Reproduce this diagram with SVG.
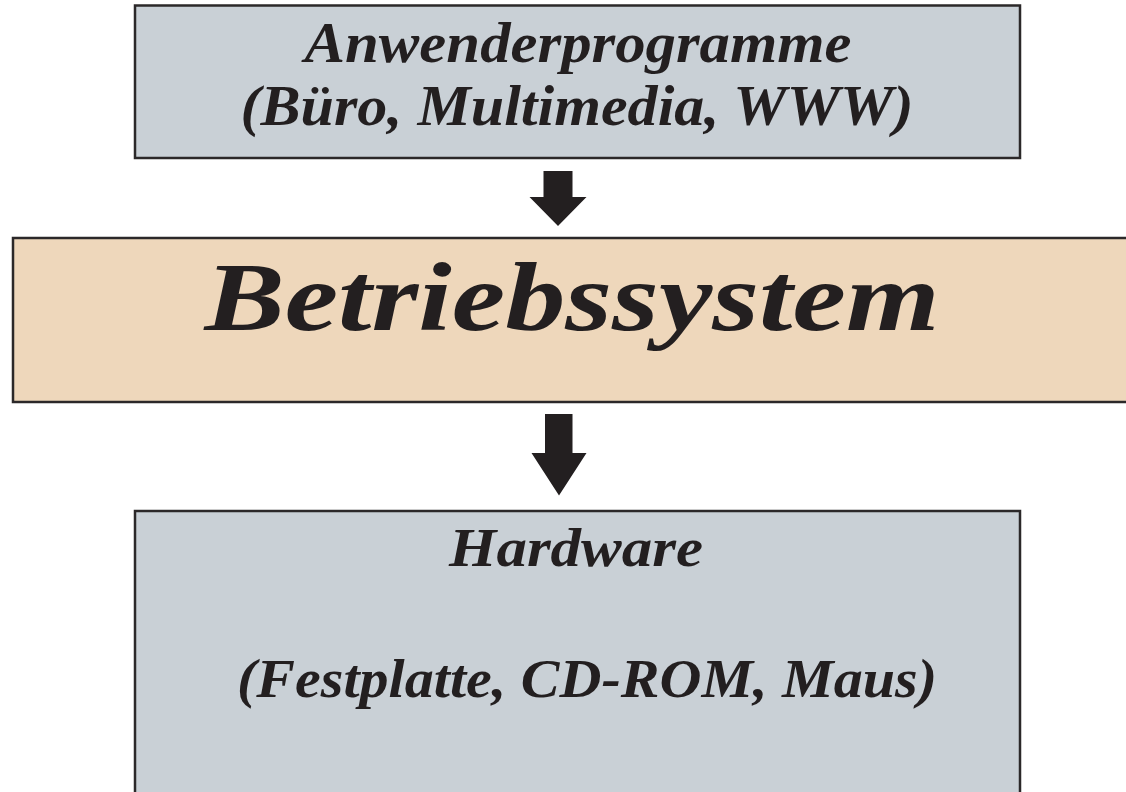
<svg xmlns="http://www.w3.org/2000/svg" width="1126" height="792" viewBox="0 0 1126 792">
<style>
.box{stroke:#2b2829;stroke-width:2.5}
.gray{fill:#c9d0d6}
.peach{fill:#eed7bb}
.t{font-family:"Liberation Serif","DejaVu Serif",serif;font-style:italic;font-weight:bold;fill:#231f20;text-anchor:middle}
.arrow{fill:#231f20}
</style>
<rect width="1126" height="792" fill="#ffffff"/>
<g id="anwender">
<rect class="box gray" x="135" y="5.5" width="885" height="152.5"/>
<text class="t" x="578" y="62" font-size="56" textLength="547" lengthAdjust="spacingAndGlyphs">Anwenderprogramme</text>
<text class="t" x="577" y="125" font-size="56" textLength="673" lengthAdjust="spacingAndGlyphs">(Büro, Multimedia, WWW)</text>
</g>
<g id="betriebssystem">
<rect class="box peach" x="13" y="238" width="1120" height="164"/>
<text class="t" x="572" y="330" font-size="98" textLength="735" lengthAdjust="spacingAndGlyphs">Betriebssystem</text>
</g>
<g id="hardware">
<rect class="box gray" x="135" y="511" width="885" height="300"/>
<text class="t" x="576" y="566" font-size="55" textLength="254" lengthAdjust="spacingAndGlyphs">Hardware</text>
<text class="t" x="587" y="697" font-size="55" textLength="700" lengthAdjust="spacingAndGlyphs">(Festplatte, CD-ROM, Maus)</text>
</g>
<g id="connectors">
<polygon class="arrow" points="543.5,171 572.5,171 572.5,197 586.5,197 558,226 529.5,197 543.5,197"/>
<polygon class="arrow" points="545,414 572.5,414 572.5,453 586.5,453 559,495.5 531.5,453 545,453"/>
</g>
</svg>
